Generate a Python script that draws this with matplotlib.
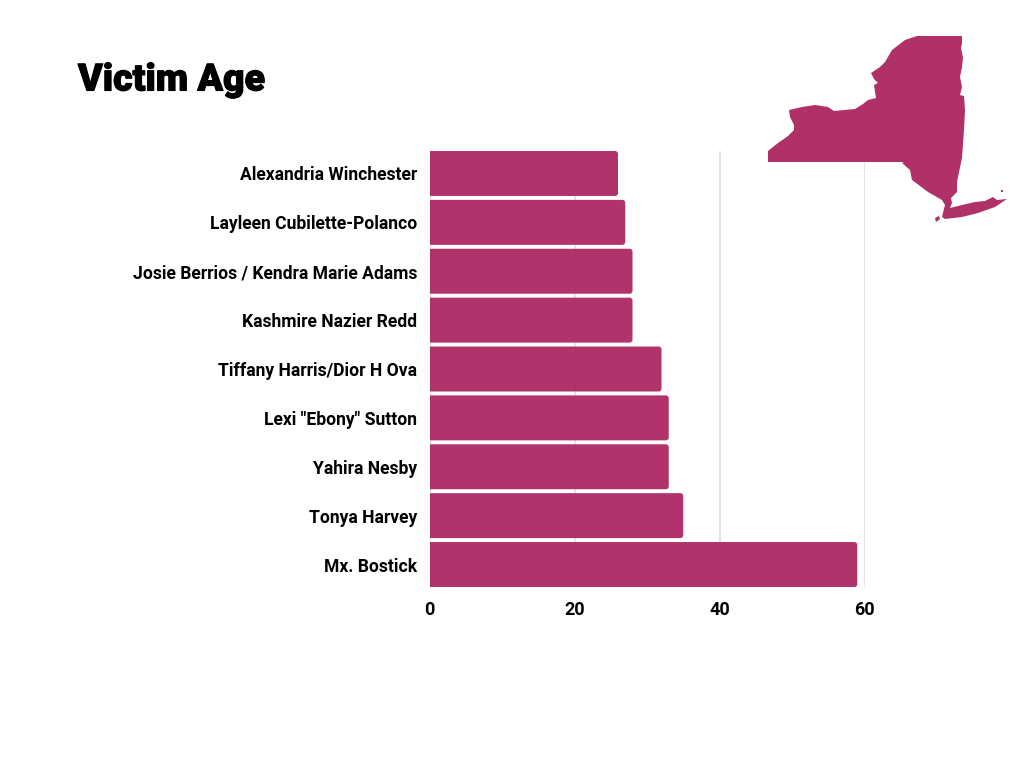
# Victim age bar chart with the New York state outline in the corner

import matplotlib
matplotlib.use('Agg')
import matplotlib.pyplot as plt
import matplotlib.patheffects as pe
from matplotlib.patches import FancyBboxPatch, Polygon

plt.rcParams['font.family'] = ['Roboto', 'DejaVu Sans']

names = ['Alexandria Winchester', 'Layleen Cubilette-Polanco',
         'Josie Berrios / Kendra Marie Adams', 'Kashmire Nazier Redd',
         'Tiffany Harris/Dior H Ova', 'Lexi "Ebony" Sutton', 'Yahira Nesby',
         'Tonya Harvey', 'Mx. Bostick']
ages = [26, 27, 28, 28, 32, 33, 33, 35, 59]
ticks = [0, 20, 40, 60]

# state outline, traced in reference pixels
state_outline = [(768, 151), (768, 162), (904, 162), (902, 163), (910, 170), (912, 180),
                 (928, 192), (942, 200), (945, 205), (942, 217), (945, 219), (962, 217),
                 (978, 213), (995, 207), (1007, 199), (997, 200), (993, 197), (985, 201),
                 (975, 202), (962, 205), (950, 208), (952, 203), (951, 198), (957, 192),
                 (957, 182), (959, 172), (962, 158), (964, 130), (965, 110), (964, 96),
                 (960, 95), (962, 87), (960, 77), (962, 67), (963, 58), (961, 48),
                 (962, 43), (962, 36), (917, 36), (905, 40), (892, 50), (885, 62),
                 (880, 67), (871, 73), (874, 79), (878, 83), (874, 85), (876, 98),
                 (868, 100), (863, 104), (855, 109), (834, 111), (828, 107), (815, 105),
                 (802, 107), (789, 110), (790, 117), (794, 125), (794, 130), (788, 136),
                 (778, 143)]
staten_island = [(935, 218), (939, 216), (940, 219), (936, 222)]
sound_islet = [(1001, 190), (1003, 190), (1003, 192), (1001, 192)]

bar_color = '#AE2C66'
map_color = '#B03068'
grid_color = '#E0E0E0'

fig = plt.figure(figsize=(10.24, 7.68), dpi=100)
ax = fig.add_axes([429.5 / 1024, 1 - 587 / 768, 435 / 1024, 436 / 768])

# Rounded bars, square on the baseline side (the axes clips the left end)
y_pos = list(range(len(names)))
for y, age in zip(y_pos, ages):
    ax.add_patch(FancyBboxPatch((-1, y - 0.46), age + 1, 0.92,
                                boxstyle='round,pad=0,rounding_size=0.4',
                                mutation_aspect=7.25 / 48.875,
                                facecolor=bar_color, edgecolor='none',
                                alpha=0.97, zorder=3))

ax.set_xlim(0, 60)
ax.set_ylim(len(names) - 1 + 0.46, -0.46)
ax.set_xticks(ticks)
ax.set_yticks(y_pos)
ax.set_yticklabels(names, fontsize=12.65, fontweight='bold')
ax.tick_params(axis='both', length=0)
ax.tick_params(axis='y', pad=9)
ax.tick_params(axis='x', pad=10, labelsize=13)
for label in ax.get_xticklabels():
    label.set_fontweight('bold')
ax.grid(axis='x', color=grid_color, linewidth=1.2, zorder=1)
ax.set_axisbelow(True)
for spine in ax.spines.values():
    spine.set_visible(False)

title = fig.text(78 / 1024, 1 - 80 / 768, 'Victim Age', fontsize=27, fontweight='black',
                 ha='left', va='center', color='black')
title.set_path_effects([pe.withStroke(linewidth=0.8, foreground='black')])

# The map sits on top of the chart, positioned in figure fractions
for outline in (state_outline, staten_island, sound_islet):
    pts = [(x / 1024, 1 - y / 768) for x, y in outline]
    fig.add_artist(Polygon(pts, closed=True, transform=fig.transFigure,
                           facecolor=map_color, edgecolor='none', zorder=5))

fig.savefig('out.png', dpi=100)
